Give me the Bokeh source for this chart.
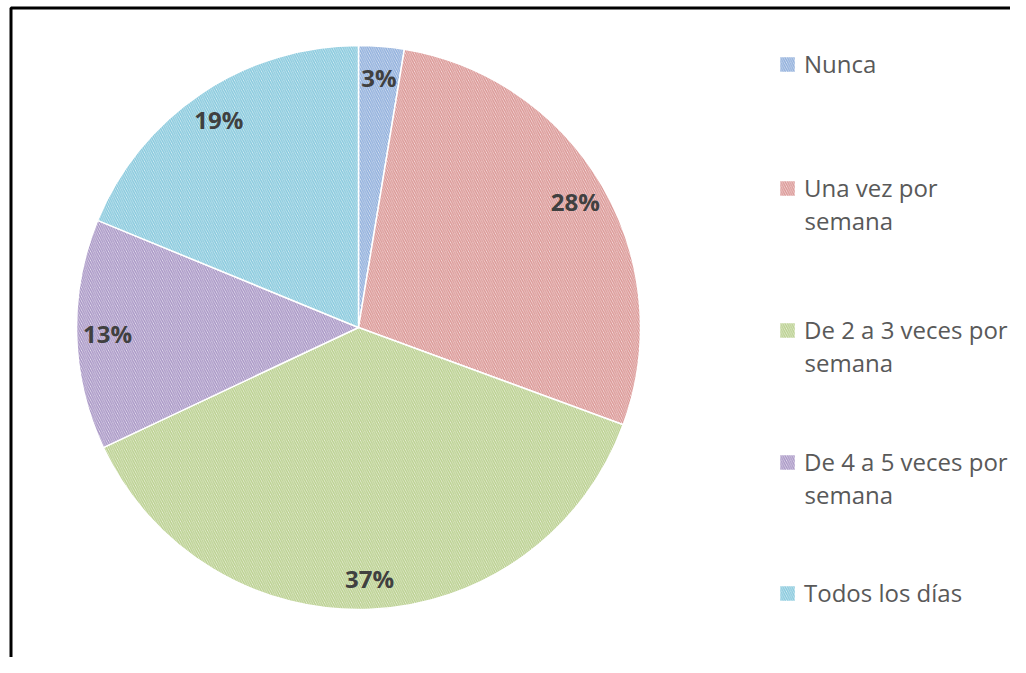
import numpy as np
from bokeh.plotting import figure
from bokeh.models import ColumnDataSource, Range1d, Legend, LegendItem, Label
from bokeh.core.properties import value
from bokeh.embed import file_html
from bokeh.resources import INLINE

# ---- data ----
categories = ["Nunca", "Una vez por semana", "De 2 a 3 veces por semana",
              "De 4 a 5 veces por semana", "Todos los días"]
legend_first = ["Nunca", "Una vez por", "De 2 a 3 veces por",
                "De 4 a 5 veces por", "Todos los días"]
legend_second = ["", "semana", "semana", "semana", ""]
shares = [2.6, 28.0, 37.4, 13.2, 18.8]
pct_labels = ["3%", "28%", "37%", "13%", "19%"]
stripe_colors = ["#8FAEDB", "#D99694", "#B9CF8E", "#A795C4", "#86C8DC"]
base_colors = ["#DCE6F4", "#F7E0E0", "#EAF1DC", "#E8E2F0", "#D9EEF5"]

# ---- geometry ----
W, H = 1010, 657
cx, cy, R = 358, H - 327, 282

vals = np.array(shares, dtype=float)
cum = np.concatenate([[0.0], np.cumsum(vals)]) / vals.sum()
start = np.pi / 2 - 2 * np.pi * cum[:-1]
end = np.pi / 2 - 2 * np.pi * cum[1:]
mid = (start + end) / 2
lr = 0.89 * R

src = ColumnDataSource(dict(
    cat=categories, share=shares, lab=pct_labels,
    start=start, end=end,
    fill=base_colors, hatch=stripe_colors,
    lx=cx + lr * np.cos(mid), ly=cy + lr * np.sin(mid),
))

p = figure(width=W, height=H, output_backend="svg", toolbar_location=None,
           x_range=Range1d(0, W), y_range=Range1d(0, H),
           x_axis_type=None, y_axis_type=None, min_border=0)
p.grid.visible = False
p.outline_line_color = None
p.background_fill_color = "white"
p.border_fill_color = "white"

r = p.wedge(x=cx, y=cy, radius=R, start_angle="start", end_angle="end",
            direction="clock", source=src,
            fill_color="fill", hatch_pattern="\\", hatch_color="hatch",
            hatch_scale=4.5, hatch_weight=1.4,
            line_color="white", line_width=1.5)

p.text(x="lx", y="ly", text="lab", source=src,
       text_font=value("Open Sans"), text_font_style="bold",
       text_font_size="24px", text_color="#404040",
       text_align="center", text_baseline="middle")

# chart frame (only its top and left edges fall inside the picture)
p.line(x=[10.5, 10.5, W + 10], y=[-10, H - 7.5, H - 7.5],
       line_color="black", line_width=3)

# legend entries, each placed on its own
first_line_y = [64, 188, 330, 462, 593]   # screen y from top (centres)
for i in range(len(legend_first)):
    yc = first_line_y[i]
    leg = Legend(items=[LegendItem(label=legend_first[i], renderers=[r], index=i)],
                 location=(777, H - (yc + 16)), padding=0, margin=0,
                 border_line_color=None, background_fill_alpha=0,
                 glyph_width=20, glyph_height=20, label_standoff=7,
                 label_text_font="Open Sans", label_text_font_size="24px",
                 label_text_color="#595959", label_text_line_height=1.33)
    p.add_layout(leg)
    if legend_second[i]:
        p.add_layout(Label(x=804, y=H - (yc + 32), x_units="screen", y_units="screen",
                           text=legend_second[i], text_font="Open Sans",
                           text_font_size="24px", text_color="#595959",
                           text_baseline="middle", text_align="left"))

open("out.html", "w").write(file_html(p, INLINE))
